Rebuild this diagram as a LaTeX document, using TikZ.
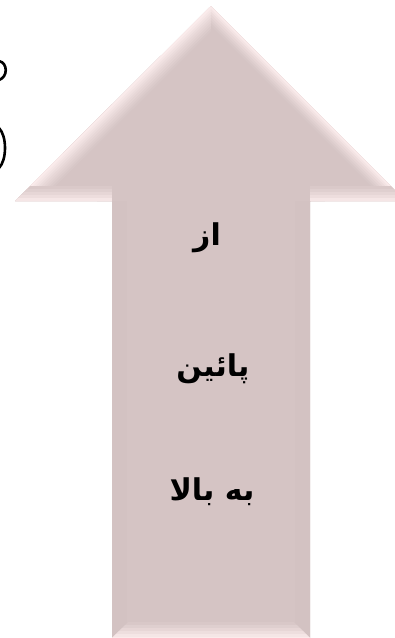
\documentclass[tikz,border=0pt]{standalone}
\usepackage{fontspec}
\newfontfamily\arabicfont[Script=Arabic]{DejaVu Sans}
\TeXXeTstate=1
\definecolor{main}{RGB}{213,196,196}
\definecolor{light}{RGB}{253,238,238}
\definecolor{sidedark}{RGB}{207,190,190}
\begin{document}
\begin{tikzpicture}[x=1pt,y=-1pt,
  artext/.style={font=\arabicfont\bfseries\fontsize{30}{36}\selectfont, text=black, inner sep=0pt, anchor=base},
  paren/.style={draw=black, line width=2.6pt, line cap=round}]
\useasboundingbox (0,0) rectangle (395,638);
\coordinate (T) at (211,6);
\coordinate (L) at (15,201);
\coordinate (R) at (406,201);
\coordinate (SL) at (112,201);
\coordinate (SR) at (310,201);
\coordinate (BL) at (112,638);
\coordinate (BR) at (310,638);
\def\arrowpath{(T) -- (R) -- (SR) -- (BR) -- (BL) -- (SL) -- (L) -- cycle}
\fill[main] \arrowpath;
\begin{scope}
  \clip \arrowpath;
  % left diagonal facet
  \begin{scope}
    \clip (0,0) rectangle (211,190);
    \foreach \w/\p in {36/94,32/84,28/74,24/64,20/54,16/44,12/32,8/20,4/8}
      \draw[line width=\w pt, color=main!\p!light] (L) -- (T);
  \end{scope}
  % right diagonal facet
  \begin{scope}
    \clip (211,0) rectangle (420,190);
    \foreach \w/\p in {28/94,24/82,20/70,16/56,12/42,8/26,4/10}
      \draw[line width=\w pt, color=main!\p!light] (T) -- (R);
  \end{scope}
  % head undersides
  \begin{scope}
    \clip (0,186) -- (112,186) -- (112,201) -- (0,201) -- cycle;
    \foreach \w/\p in {30/88,24/74,18/58,12/40,6/20}
      \draw[line width=\w pt, color=main!\p!light] (L) -- (SL);
  \end{scope}
  \begin{scope}
    \clip (310,186) -- (420,186) -- (420,201) -- (310,201) -- cycle;
    \foreach \w/\p in {30/88,24/74,18/58,12/40,6/20}
      \draw[line width=\w pt, color=main!\p!light] (SR) -- (R);
  \end{scope}
  % shaft sides
  \draw[line width=30pt, color=main!60!sidedark] (SL) -- (BL);
  \draw[line width=30pt, color=main!60!sidedark] (SR) -- (BR);
  % bottom facet
  \begin{scope}
    \clip (112,638) -- (310,638) -- (294,622) -- (128,622) -- cycle;
    \foreach \w/\p in {32/90,26/74,20/56,14/38,8/20,3/6}
      \draw[line width=\w pt, color=main!\p!light] (BL) -- (BR);
  \end{scope}
\end{scope}
% clipped glyph fragments at the left edge
\draw[paren] (-1,61) .. controls (8,63) and (8,77) .. (-1,80);
\draw[paren] (-1,128) .. controls (7,136) and (7,160) .. (-1,168);
% texts
\node[artext] (t1) at (207,245) {\beginR از\endR};
\node[artext] (t2) at (213,376) {\beginR پائین\endR};
\node[artext] (t3) at (212,500) {\beginR به بالا\endR};
\end{tikzpicture}
\end{document}
